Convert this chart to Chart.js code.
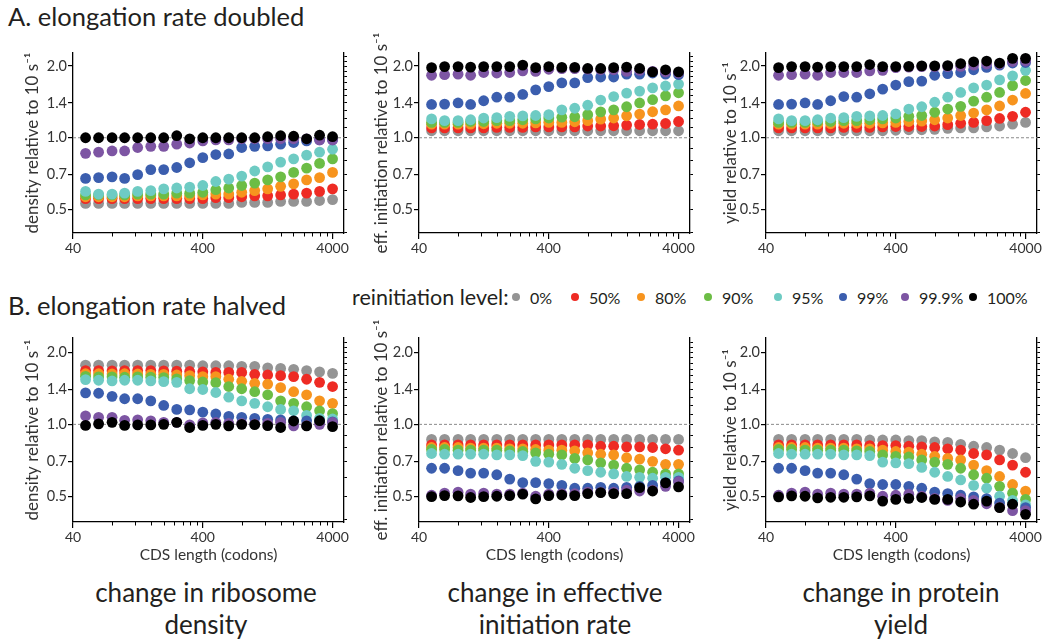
<!DOCTYPE html>
<html>
<head>
<meta charset="utf-8">
<script src="https://cdn.jsdelivr.net/npm/chart.js@4.4.1/dist/chart.umd.min.js"></script>
<style>
  html, body { margin: 0; padding: 0; background: #fff; }
  body { width: 1042px; height: 639px; position: relative; overflow: hidden;
         font-family: "Lato", "Open Sans", sans-serif; color: #231f20; }
  .hdr { position: absolute; font-size: 25.5px; white-space: nowrap; }
  .cap { position: absolute; font-size: 26px; text-align: center; line-height: 32px; width: 320px; }
  canvas { position: absolute; }
  #legend { position: absolute; left: 0; top: 284px; width: 1042px; height: 26px; }
  #legend .lt { position: absolute; left: 352px; top: 0; font-size: 21.5px; white-space: nowrap; line-height: 26px; }
  #legend .it { position: absolute; top: 0; display: flex; align-items: center; height: 26px; font-size: 16px; white-space: nowrap; }
  #legend .it i { display: inline-block; width: 8px; height: 8px; border-radius: 50%; margin-right: 10px; }
</style>
</head>
<body>
<div class="hdr" style="left:8px; top:1px;">A. elongation rate doubled</div>
<div class="hdr" style="left:8px; top:290px;">B. elongation rate halved</div>
<div id="legend"></div>
<div class="cap" style="left:46px; top:576px;">change in ribosome<br>density</div>
<div class="cap" style="left:395px; top:576px;">change in effective<br>initiation rate</div>
<div class="cap" style="left:741px; top:576px;">change in protein<br>yield</div>

<canvas id="a1"></canvas><canvas id="a2"></canvas><canvas id="a3"></canvas>
<canvas id="b1"></canvas><canvas id="b2"></canvas><canvas id="b3"></canvas>

<script>
// CDS lengths (codons) of the simulated transcripts
const cdsLength = [50, 63, 80, 100, 126, 159, 200, 252, 317, 400, 504, 634, 798, 1005, 1265, 1592, 2005, 2524, 3177, 4000];

// reinitiation levels and their colours
const reinitLevels = ['0%', '50%', '80%', '90%', '95%', '99%', '99.9%', '100%'];
const levelColors = ['#949494', '#ee2b24', '#f7941e', '#6cbd45', '#6ecbc3', '#3b5eae', '#7d55a3', '#000000'];

// axis ticks
const xTickValues = [40, 400, 4000];
const yTickValues = [0.5, 0.7, 1.0, 1.4, 2.0];
const refLevel = 1.0;

// ---- A. elongation rate doubled: ribosome density ----
const densUp_0    = [0.53,0.53,0.53,0.53,0.53,0.53,0.53,0.53,0.53,0.53,0.53,0.53,0.535,0.535,0.535,0.54,0.54,0.54,0.545,0.55];
const densUp_50   = [0.555,0.555,0.555,0.555,0.555,0.555,0.555,0.555,0.555,0.555,0.56,0.56,0.565,0.57,0.57,0.575,0.58,0.585,0.595,0.61];
const densUp_80   = [0.565,0.565,0.565,0.565,0.57,0.57,0.57,0.57,0.57,0.575,0.58,0.58,0.59,0.60,0.61,0.625,0.64,0.665,0.68,0.715];
const densUp_90   = [0.575,0.575,0.575,0.575,0.58,0.58,0.58,0.585,0.585,0.59,0.605,0.615,0.63,0.645,0.665,0.685,0.715,0.745,0.78,0.815];
const densUp_95   = [0.595,0.58,0.58,0.585,0.595,0.60,0.61,0.615,0.62,0.63,0.655,0.67,0.69,0.725,0.755,0.79,0.815,0.845,0.87,0.895];
const densUp_99   = [0.675,0.68,0.685,0.675,0.70,0.735,0.735,0.75,0.785,0.825,0.85,0.855,0.91,0.92,0.925,0.94,0.955,0.97,0.98,0.98];
const densUp_999  = [0.86,0.87,0.88,0.88,0.91,0.92,0.92,0.94,0.95,0.97,0.98,0.98,0.99,0.99,0.99,0.99,0.99,0.99,0.98,0.98];
const densUp_100  = [1.00,1.00,1.00,1.00,1.00,1.00,1.00,1.02,0.99,1.00,1.00,1.00,1.00,1.00,1.01,1.02,1.015,0.99,1.025,1.01];

// ---- A. elongation rate doubled: effective initiation ----
const initUp_0    = [1.07,1.07,1.07,1.07,1.07,1.07,1.07,1.07,1.07,1.07,1.07,1.07,1.07,1.07,1.07,1.07,1.07,1.07,1.07,1.07];
const initUp_50   = [1.10,1.10,1.10,1.10,1.10,1.105,1.105,1.105,1.11,1.11,1.11,1.11,1.12,1.12,1.123,1.13,1.137,1.14,1.148,1.17];
const initUp_80   = [1.14,1.14,1.14,1.14,1.145,1.15,1.15,1.15,1.155,1.16,1.16,1.167,1.18,1.198,1.21,1.237,1.257,1.286,1.31,1.36];
const initUp_90   = [1.16,1.16,1.16,1.17,1.17,1.18,1.18,1.19,1.20,1.21,1.22,1.225,1.25,1.285,1.31,1.35,1.40,1.445,1.50,1.545];
const initUp_95   = [1.20,1.18,1.18,1.19,1.21,1.215,1.23,1.235,1.24,1.25,1.31,1.33,1.37,1.44,1.49,1.54,1.57,1.62,1.65,1.68];
const initUp_99   = [1.38,1.385,1.40,1.38,1.43,1.48,1.48,1.52,1.59,1.64,1.70,1.70,1.79,1.80,1.80,1.85,1.85,1.87,1.85,1.84];
const initUp_999  = [1.83,1.84,1.85,1.83,1.88,1.87,1.88,1.91,1.90,1.94,1.95,1.95,1.94,1.93,1.93,1.90,1.92,1.90,1.89,1.87];
const initUp_100  = [1.97,1.99,1.99,1.98,1.99,1.99,1.99,2.02,1.97,1.99,1.975,1.975,1.955,1.955,1.97,1.98,1.955,1.89,1.93,1.89];

// ---- A. elongation rate doubled: protein yield ----
const yieldUp_0   = [1.07,1.07,1.07,1.07,1.07,1.07,1.07,1.07,1.07,1.075,1.08,1.08,1.085,1.095,1.10,1.10,1.11,1.12,1.14,1.16];
const yieldUp_50  = [1.10,1.10,1.10,1.10,1.10,1.105,1.105,1.105,1.11,1.115,1.115,1.115,1.12,1.135,1.15,1.16,1.18,1.205,1.23,1.28];
const yieldUp_80  = [1.14,1.14,1.14,1.14,1.145,1.15,1.15,1.15,1.155,1.16,1.17,1.175,1.19,1.21,1.24,1.27,1.31,1.36,1.44,1.535];
const yieldUp_90  = [1.16,1.16,1.16,1.17,1.17,1.18,1.18,1.19,1.20,1.21,1.23,1.24,1.28,1.32,1.355,1.425,1.48,1.55,1.655,1.74];
const yieldUp_95  = [1.20,1.18,1.18,1.19,1.21,1.215,1.23,1.235,1.24,1.26,1.32,1.35,1.41,1.48,1.55,1.62,1.665,1.75,1.82,1.92];
const yieldUp_99  = [1.38,1.385,1.40,1.38,1.43,1.49,1.48,1.53,1.60,1.665,1.72,1.73,1.83,1.86,1.88,1.93,1.975,2.02,2.06,2.07];
const yieldUp_999 = [1.83,1.84,1.85,1.83,1.88,1.88,1.88,1.91,1.92,1.97,1.98,1.99,1.99,1.99,1.995,2.02,2.04,2.04,2.09,2.10];
const yieldUp_100 = [1.97,1.99,1.99,1.98,1.99,1.99,1.99,2.03,1.99,1.99,1.995,2.005,2.005,2.01,2.05,2.085,2.10,2.06,2.155,2.155];

// ---- B. elongation rate halved: ribosome density ----
const densDn_0    = [1.77,1.77,1.77,1.77,1.77,1.77,1.77,1.77,1.77,1.76,1.76,1.76,1.75,1.75,1.725,1.715,1.70,1.68,1.66,1.635];
const densDn_50   = [1.68,1.68,1.675,1.68,1.68,1.68,1.675,1.67,1.665,1.66,1.65,1.65,1.65,1.62,1.61,1.60,1.585,1.545,1.50,1.44];
const densDn_80   = [1.63,1.63,1.625,1.63,1.625,1.62,1.62,1.61,1.60,1.585,1.585,1.545,1.515,1.485,1.475,1.425,1.37,1.33,1.255,1.225];
const densDn_90   = [1.59,1.58,1.58,1.575,1.58,1.575,1.57,1.55,1.525,1.505,1.495,1.44,1.41,1.37,1.33,1.255,1.225,1.185,1.14,1.11];
const densDn_95   = [1.54,1.53,1.52,1.53,1.53,1.52,1.51,1.50,1.41,1.40,1.36,1.30,1.255,1.225,1.185,1.155,1.14,1.09,1.06,1.053];
const densDn_99   = [1.355,1.35,1.31,1.28,1.28,1.255,1.20,1.155,1.15,1.125,1.105,1.08,1.07,1.06,1.05,1.045,1.035,1.035,1.03,1.025];
const densDn_999  = [1.085,1.07,1.07,1.04,1.045,1.035,1.02,1.02,0.995,1.015,1.02,1.01,1.01,1.005,1.01,1.02,0.985,0.99,1.0,1.02];
const densDn_100  = [0.99,1.005,1.02,0.99,0.995,0.995,1.0,1.02,0.97,0.99,1.0,0.985,1.0,0.997,0.987,0.97,1.033,0.985,1.036,0.978];

// ---- B. elongation rate halved: effective initiation ----
const initDn_0    = [0.865,0.865,0.865,0.865,0.865,0.865,0.865,0.865,0.865,0.865,0.865,0.865,0.865,0.865,0.865,0.865,0.865,0.865,0.865,0.865];
const initDn_50   = [0.82,0.82,0.82,0.82,0.82,0.82,0.82,0.82,0.82,0.82,0.82,0.82,0.82,0.81,0.81,0.805,0.805,0.80,0.79,0.78];
const initDn_80   = [0.80,0.80,0.80,0.795,0.795,0.795,0.79,0.79,0.785,0.78,0.78,0.775,0.76,0.75,0.745,0.725,0.715,0.70,0.68,0.68];
const initDn_90   = [0.785,0.785,0.78,0.78,0.78,0.78,0.775,0.77,0.76,0.75,0.745,0.72,0.71,0.69,0.675,0.655,0.645,0.63,0.62,0.62];
const initDn_95   = [0.755,0.75,0.75,0.75,0.75,0.745,0.745,0.74,0.70,0.695,0.68,0.655,0.64,0.63,0.62,0.605,0.60,0.595,0.60,0.60];
const initDn_99   = [0.655,0.655,0.64,0.625,0.625,0.615,0.59,0.57,0.57,0.565,0.555,0.54,0.54,0.545,0.54,0.545,0.55,0.555,0.57,0.58];
const initDn_999  = [0.505,0.515,0.52,0.51,0.515,0.51,0.51,0.515,0.50,0.51,0.513,0.513,0.52,0.52,0.52,0.53,0.526,0.53,0.55,0.575];
const initDn_100  = [0.498,0.503,0.502,0.494,0.498,0.50,0.503,0.51,0.487,0.503,0.506,0.503,0.513,0.518,0.513,0.513,0.543,0.526,0.569,0.547];

// ---- B. elongation rate halved: protein yield ----
const yieldDn_0   = [0.865,0.865,0.865,0.865,0.865,0.865,0.865,0.86,0.86,0.86,0.855,0.855,0.845,0.84,0.825,0.81,0.80,0.78,0.755,0.725];
const yieldDn_50  = [0.82,0.82,0.82,0.82,0.82,0.82,0.82,0.815,0.815,0.815,0.81,0.805,0.80,0.79,0.78,0.755,0.745,0.71,0.675,0.63];
const yieldDn_80  = [0.80,0.80,0.80,0.795,0.795,0.795,0.79,0.79,0.78,0.77,0.765,0.75,0.735,0.72,0.71,0.675,0.64,0.605,0.56,0.525];
const yieldDn_90  = [0.785,0.785,0.78,0.78,0.78,0.78,0.775,0.77,0.745,0.735,0.73,0.71,0.695,0.68,0.655,0.615,0.595,0.55,0.515,0.485];
const yieldDn_95  = [0.755,0.75,0.75,0.75,0.75,0.745,0.745,0.74,0.695,0.69,0.685,0.66,0.63,0.605,0.585,0.555,0.54,0.50,0.48,0.46];
const yieldDn_99  = [0.655,0.655,0.64,0.625,0.625,0.615,0.59,0.565,0.56,0.56,0.55,0.54,0.52,0.513,0.505,0.497,0.489,0.468,0.463,0.448];
const yieldDn_999 = [0.505,0.515,0.52,0.51,0.515,0.51,0.51,0.515,0.50,0.505,0.51,0.50,0.49,0.48,0.49,0.48,0.465,0.45,0.435,0.435];
const yieldDn_100 = [0.497,0.502,0.50,0.492,0.495,0.495,0.497,0.502,0.477,0.485,0.49,0.494,0.485,0.485,0.473,0.463,0.477,0.448,0.463,0.42];

// ---------------------------------------------------------------
Chart.defaults.font.family = '"Lato", "Open Sans", sans-serif';
Chart.defaults.color = '#231f20';

// legend row: label, then one dot + text per reinitiation level
const legendDotX = [516, 575, 641, 708, 778, 843, 905, 973];
const legendEl = document.getElementById('legend');
legendEl.innerHTML = '<span class="lt">reinitiation level:</span>' +
  reinitLevels.map((lv, i) =>
    `<span class="it" style="left:${legendDotX[i] - 4}px"><i style="background:${levelColors[i]}"></i>${lv}</span>`
  ).join('');

// minor ticks at 2..9 x each decade start (40, 400)
const xMinor = [];
[40, 400].forEach(d => { for (let m = 2; m <= 9; m++) xMinor.push(d * m); });
const yRightTicks = [];
for (let v = 4; v <= 22; v++) yRightTicks.push(v / 10);

const minorTickPlugin = {
  id: 'minorTicks',
  afterDraw(chart) {
    const { ctx, chartArea } = chart;
    const xs = chart.scales.x;
    ctx.save();
    ctx.strokeStyle = '#000';
    ctx.lineWidth = 1;
    ctx.beginPath();
    xMinor.forEach(v => {
      const px = Math.round(xs.getPixelForValue(v)) + 0.5;
      ctx.moveTo(px, chartArea.bottom);
      ctx.lineTo(px, chartArea.bottom + 3.5);
    });
    ctx.stroke();
    ctx.restore();
  }
};

const PLOT_W = 271, AXIS_W = 73, RIGHT_W = 6, PAD_T = 45, PAD_R = 4, PAD_B = 10;

function makePanel(id, cfg) {
  const canvas = document.getElementById(id);
  const bottomH = cfg.xTitle ? 42 : 30;
  const w = AXIS_W + PLOT_W + RIGHT_W + PAD_R;
  const h = PAD_T + cfg.plotH + bottomH + PAD_B;
  canvas.width = w; canvas.height = h;
  canvas.style.width = w + 'px'; canvas.style.height = h + 'px';
  canvas.style.left = (cfg.plotLeft - AXIS_W) + 'px';
  canvas.style.top = (cfg.plotTop - PAD_T) + 'px';

  const datasets = cfg.series.map((arr, i) => ({
    type: 'scatter',
    label: reinitLevels[i],
    data: cdsLength.map((x, k) => ({ x, y: arr[k] })),
    backgroundColor: levelColors[i],
    borderWidth: 0,
    pointRadius: 5.4,
    pointHoverRadius: 5.4,
    pointBorderWidth: 0,
    order: 10 - i,
    clip: false
  }));
  datasets.push({
    type: 'line',
    label: 'reference',
    data: [{ x: 40, y: refLevel }, { x: cfg.xMax, y: refLevel }],
    borderColor: '#8a8a8a',
    borderWidth: 1,
    borderDash: [3, 2],
    pointRadius: 0,
    order: 50
  });

  new Chart(canvas, {
    data: { datasets },
    options: {
      responsive: false,
      animation: false,
      devicePixelRatio: 1,
      layout: { padding: { top: PAD_T, right: PAD_R, left: 0, bottom: PAD_B } },
      plugins: { legend: { display: false }, tooltip: { enabled: false } },
      events: [],
      scales: {
        x: {
          type: 'logarithmic', position: 'bottom', min: 40, max: cfg.xMax,
          afterBuildTicks: s => { s.ticks = xTickValues.map(v => ({ value: v })); },
          afterFit: s => { s.height = bottomH; },
          ticks: { autoSkip: false, maxRotation: 0, padding: 1, font: { size: 14 }, color: '#333',
                   callback: v => String(v) },
          grid: { drawOnChartArea: false, drawTicks: true, tickLength: 6, color: '#000', lineWidth: 1.2 },
          border: { display: true, color: '#000', width: 1.3 },
          title: { display: !!cfg.xTitle, text: cfg.xTitle || '', font: { size: 15.5 }, color: '#333',
                   padding: { top: 2, bottom: 0 } }
        },
        y: {
          type: 'logarithmic', position: 'left', min: cfg.yMin, max: cfg.yMax,
          afterBuildTicks: s => { s.ticks = yTickValues.map(v => ({ value: v })); },
          afterFit: s => { s.width = AXIS_W; },
          ticks: { padding: 1, font: { size: 14.5 }, color: '#333', callback: v => Number(v).toFixed(1) },
          grid: { drawOnChartArea: false, drawTicks: true, tickLength: 5, color: '#000', lineWidth: 1.2 },
          border: { display: true, color: '#000', width: 1.3 },
          title: { display: true, text: cfg.yTitle, font: { size: 17 }, color: '#333',
                   padding: { top: cfg.yTitlePad, bottom: 0 } }
        },
        y2: {
          type: 'logarithmic', position: 'right', min: cfg.yMin, max: cfg.yMax,
          afterBuildTicks: s => { s.ticks = yRightTicks.map(v => ({ value: v })); },
          afterFit: s => { s.width = RIGHT_W; },
          ticks: { display: false },
          grid: { drawOnChartArea: false, drawTicks: true, tickLength: 3, color: '#000', lineWidth: 1 },
          border: { display: true, color: '#000', width: 1.3 }
        }
      }
    },
    plugins: [minorTickPlugin]
  });
}

const rowA = { plotTop: 53, plotH: 180, yMin: 0.398, yMax: 2.27, xMax: 4900 };
const rowB = { plotTop: 338, plotH: 184, yMin: 0.39, yMax: 2.30, xMax: 4900 };
const yDens = 'density relative to 10 s\u207B\u00B9';
const yInit = 'eff. initiation relative to 10 s\u207B\u00B9';
const yYield = 'yield relative to 10 s\u207B\u00B9';
const xTitle = 'CDS length (codons)';

makePanel('a1', { ...rowA, plotLeft: 73, yTitle: yDens, yTitlePad: 22,
  series: [densUp_0, densUp_50, densUp_80, densUp_90, densUp_95, densUp_99, densUp_999, densUp_100] });
makePanel('a2', { ...rowA, plotLeft: 419, yTitle: yInit, yTitlePad: 25,
  series: [initUp_0, initUp_50, initUp_80, initUp_90, initUp_95, initUp_99, initUp_999, initUp_100] });
makePanel('a3', { ...rowA, plotLeft: 766, yTitle: yYield, yTitlePad: 27,
  series: [yieldUp_0, yieldUp_50, yieldUp_80, yieldUp_90, yieldUp_95, yieldUp_99, yieldUp_999, yieldUp_100] });
makePanel('b1', { ...rowB, plotLeft: 73, yTitle: yDens, yTitlePad: 22, xTitle,
  series: [densDn_0, densDn_50, densDn_80, densDn_90, densDn_95, densDn_99, densDn_999, densDn_100] });
makePanel('b2', { ...rowB, plotLeft: 419, yTitle: yInit, yTitlePad: 25, xTitle,
  series: [initDn_0, initDn_50, initDn_80, initDn_90, initDn_95, initDn_99, initDn_999, initDn_100] });
makePanel('b3', { ...rowB, plotLeft: 766, yTitle: yYield, yTitlePad: 27, xTitle,
  series: [yieldDn_0, yieldDn_50, yieldDn_80, yieldDn_90, yieldDn_95, yieldDn_99, yieldDn_999, yieldDn_100] });
</script>
</body>
</html>
